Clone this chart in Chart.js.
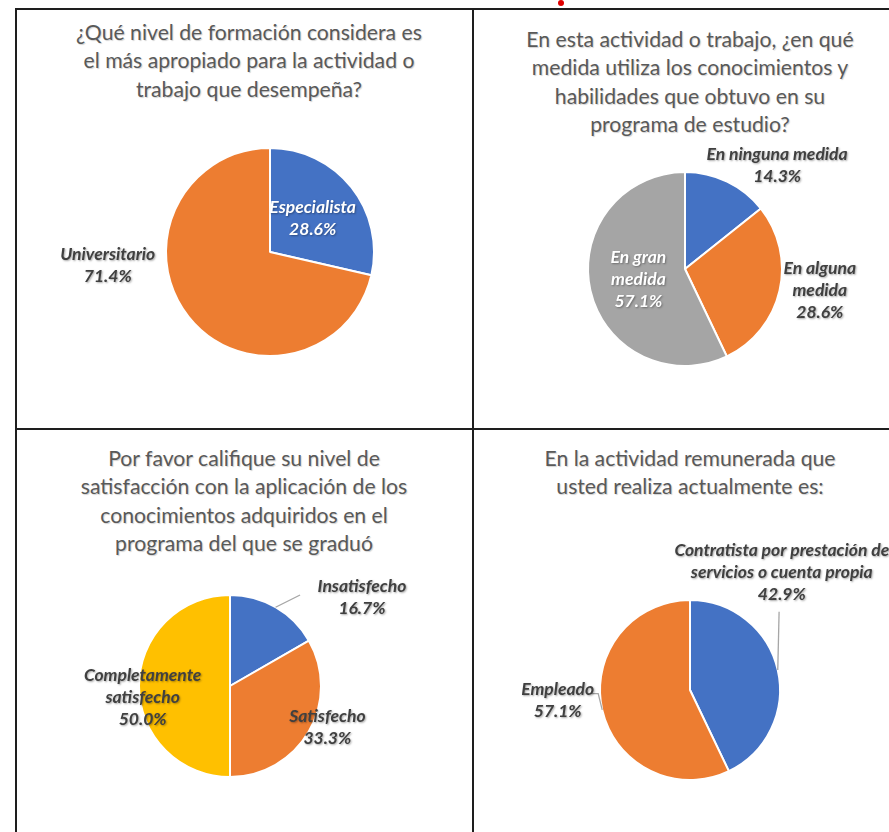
<!DOCTYPE html>
<html>
<head>
<meta charset="utf-8">
<script src="https://cdn.jsdelivr.net/npm/chart.js@4.4.1/dist/chart.umd.min.js"></script>
<style>
    body { margin: 0; background: #fff; width: 889px; height: 832px; overflow: hidden; position: relative; font-family: Lato, sans-serif; }
    .cell { position: absolute; border: 2px solid #1e1e1e; box-sizing: border-box; }
    .title { position: absolute; width: 520px; text-align: center; color: #595959; font-size: 21.2px; line-height: 28.3px; white-space: nowrap; text-shadow: 1px 1px 1px rgba(0,0,0,0.18); }
    canvas { position: absolute; }
    .dot { position: absolute; left: 558px; top: 0; width: 6px; height: 6px; border-radius: 3px; background: #e00000; }
</style>
</head>
<body>
<div class="cell" style="left:15px;top:8px;width:459px;height:422px"></div>
<div class="cell" style="left:472px;top:8px;width:500px;height:422px"></div>
<div class="cell" style="left:15px;top:428px;width:459px;height:500px"></div>
<div class="cell" style="left:472px;top:428px;width:500px;height:500px"></div>
<div class="dot"></div>

<div class="title" style="left:-11px;top:18px">¿Qué nivel de formación considera es<br>el más apropiado para la actividad o<br>trabajo que desempeña?</div>
<div class="title" style="left:430px;top:25px">En esta actividad o trabajo, ¿en qué<br>medida utiliza los conocimientos y<br>habilidades que obtuvo en su<br>programa de estudio?</div>
<div class="title" style="left:-16px;top:444px">Por favor califique su nivel de<br>satisfacción con la aplicación de los<br>conocimientos adquiridos en el<br>programa del que se graduó</div>
<div class="title" style="left:430px;top:444px">En la actividad remunerada que<br>usted realiza actualmente es:</div>

<canvas id="c1" width="456" height="419" style="left:16px;top:9px"></canvas>
<canvas id="c2" width="417" height="419" style="left:472px;top:9px"></canvas>
<canvas id="c3" width="456" height="404" style="left:16px;top:428px"></canvas>
<canvas id="c4" width="417" height="404" style="left:472px;top:428px"></canvas>

<script>
    // Datos (porcentajes)
    const formacionLabels = ['Especialista', 'Universitario'];
    const formacionValues = [28.6, 71.4];

    const medidaLabels = [['En ninguna medida'], ['En alguna', 'medida'], ['En gran', 'medida']];
    const medidaValues = [14.3, 28.6, 57.1];

    const satisfLabels = [['Insatisfecho'], ['Satisfecho'], ['Completamente', 'satisfecho']];
    const satisfValues = [16.7, 33.3, 50.0];

    const actividadLabels = [['Contratista por prestación de', 'servicios o cuenta propia'], ['Empleado']];
    const actividadValues = [42.9, 57.1];

    const BLUE = '#4472C4', ORANGE = '#ED7D31', GRAY = '#A5A5A5', YELLOW = '#FFC000';

    // etiquetas de cada porcion, relativas al centro del pie (en radios)
    const pieText = {
        id: 'pieText',
        afterDatasetsDraw(chart, args, opts) {
            const ctx = chart.ctx;
            const meta = chart.getDatasetMeta(0);
            const ds = chart.data.datasets[0];
            const total = ds.data.reduce((a, b) => a + b, 0);
            meta.data.forEach((arc, i) => {
                const p = arc.getProps(['x', 'y', 'outerRadius', 'startAngle', 'endAngle'], true);
                const r = p.outerRadius;
                const lead = opts.leaders ? opts.leaders[i] : null;
                if (lead) {
                    const mid = (p.startAngle + p.endAngle) / 2;
                    ctx.save();
                    ctx.strokeStyle = '#a6a6a6';
                    ctx.lineWidth = 1.3;
                    ctx.beginPath();
                    ctx.moveTo(p.x + Math.cos(mid) * r, p.y + Math.sin(mid) * r);
                    lead.forEach(pt => ctx.lineTo(p.x + pt[0] * r, p.y + pt[1] * r));
                    ctx.stroke();
                    ctx.restore();
                }
                const pos = opts.positions[i];
                const lines = [].concat(chart.data.labels[i], (ds.data[i] / total * 100).toFixed(1) + '%');
                const lh = 22;
                const cx = p.x + pos[0] * r;
                const cy = p.y + pos[1] * r;
                ctx.save();
                ctx.font = 'italic bold 17.5px Lato';
                ctx.textAlign = 'center';
                ctx.textBaseline = 'middle';
                ctx.fillStyle = opts.colors[i];
                ctx.shadowColor = 'rgba(0,0,0,0.35)';
                ctx.shadowBlur = 2;
                ctx.shadowOffsetX = 1;
                ctx.shadowOffsetY = 1;
                lines.forEach((t, k) => {
                    ctx.fillText(t, cx, cy + (k - (lines.length - 1) / 2) * lh);
                });
                ctx.restore();
            });
        }
    };

    function makePie(id, labels, values, colors, pie, textOpts) {
        const canvas = document.getElementById(id);
        const w = canvas.width, h = canvas.height;
        const s = pie.r + 4;
        return new Chart(canvas.getContext('2d'), {
            type: 'pie',
            data: {
                labels: labels,
                datasets: [{
                    data: values,
                    backgroundColor: colors,
                    borderColor: '#ffffff',
                    borderWidth: 2,
                    radius: pie.r
                }]
            },
            options: {
                responsive: false,
                animation: false,
                devicePixelRatio: 1,
                layout: {
                    padding: { left: pie.x - s, right: w - pie.x - s, top: pie.y - s, bottom: h - pie.y - s }
                },
                plugins: {
                    legend: { display: false },
                    tooltip: { enabled: false },
                    pieText: textOpts
                },
                events: []
            },
            plugins: [pieText]
        });
    }

    makePie('c1', formacionLabels, formacionValues, [BLUE, ORANGE], { x: 254, y: 243, r: 104 }, {
        positions: [[0.41, -0.32], [-1.56, 0.13]],
        colors: ['#ffffff', '#404040']
    });

    makePie('c2', medidaLabels, medidaValues, [BLUE, ORANGE, GRAY], { x: 213, y: 260, r: 97 }, {
        positions: [[0.95, -1.07], [1.39, 0.22], [-0.48, 0.11]],
        colors: ['#404040', '#404040', '#ffffff']
    });

    makePie('c3', satisfLabels, satisfValues, [BLUE, ORANGE, YELLOW], { x: 214, y: 258, r: 91 }, {
        positions: [[1.45, -0.97], [1.07, 0.45], [-0.96, 0.12]],
        colors: ['#404040', '#404040', '#404040'],
        leaders: [[[0.77, -1.0]], null, null]
    });

    makePie('c4', actividadLabels, actividadValues, [BLUE, ORANGE], { x: 218, y: 262, r: 90 }, {
        positions: [[1.02, -1.31], [-1.47, 0.12]],
        colors: ['#404040', '#404040'],
        leaders: [[[0.99, -0.87]], [[-1.02, 0.04], [-1.09, 0.04]]]
    });
</script>
</body>
</html>
